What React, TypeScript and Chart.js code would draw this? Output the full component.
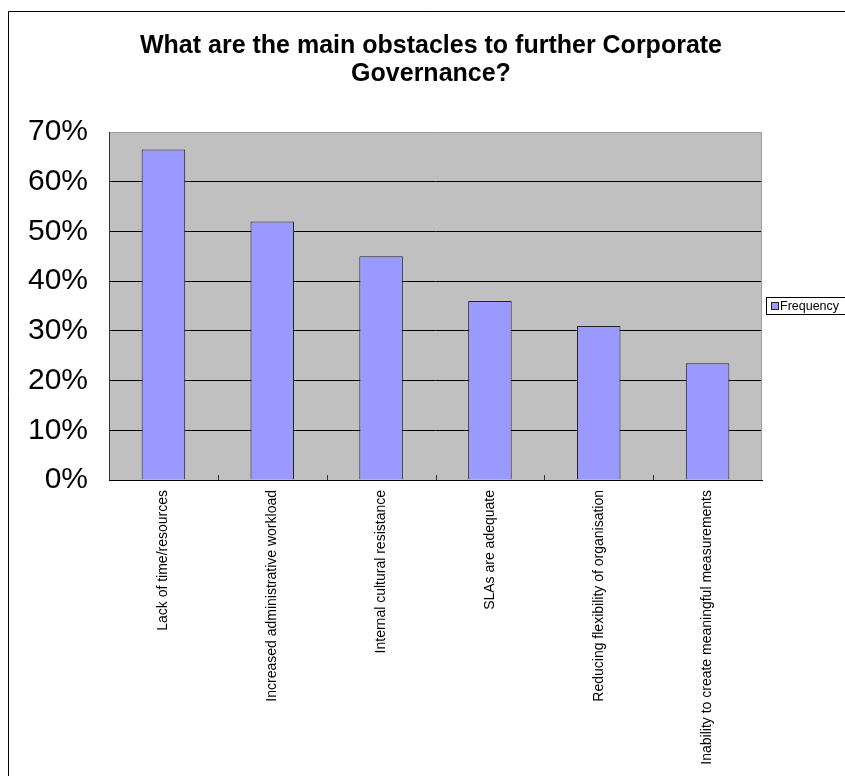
import React, { useEffect, useRef } from "react";
import { Chart, registerables } from "chart.js";

Chart.register(...registerables);

const TITLE_LINES = ["What are the main obstacles to further Corporate", "Governance?"];
const CATEGORIES = [
  "Lack of time/resources",
  "Increased administrative workload",
  "Internal cultural resistance",
  "SLAs are adequate",
  "Reducing flexibility of organisation",
  "Inability to create meaningful measurements",
];
const SERIES_LABEL = "Frequency";
const FREQUENCY = [66.5, 52, 45, 36, 31, 23.5];
const Y_MIN = 0;
const Y_MAX = 70;
const Y_STEP = 10;

const FONT = "'Liberation Sans', Arial, Helvetica, sans-serif";
const BAR_FILL = "#9999FF";
const BAR_BORDER = "#222222";
const PLOT_BG = "#C0C0C0";

const decorPlugin = {
  id: "decor",
  beforeDraw(chart: any) {
    const { ctx, chartArea: a } = chart;
    ctx.save();
    ctx.fillStyle = "#ffffff";
    ctx.fillRect(0, 0, chart.width, chart.height);
    ctx.fillStyle = PLOT_BG;
    ctx.fillRect(a.left, a.top, a.right - a.left, a.bottom - a.top);
    ctx.restore();
  },
  afterDraw(chart: any) {
    const { ctx, chartArea: a } = chart;
    ctx.save();
    // outer frame
    ctx.strokeStyle = "#000000";
    ctx.lineWidth = 1;
    ctx.beginPath();
    ctx.moveTo(8.5, chart.height);
    ctx.lineTo(8.5, 11.5);
    ctx.lineTo(chart.width, 11.5);
    ctx.stroke();

    // plot area border: top/right gray, left dark
    ctx.strokeStyle = "#A0A0A0";
    ctx.beginPath();
    ctx.moveTo(a.left, a.top + 0.5);
    ctx.lineTo(a.right - 0.5, a.top + 0.5);
    ctx.lineTo(a.right - 0.5, a.bottom);
    ctx.stroke();
    ctx.strokeStyle = "#333333";
    ctx.beginPath();
    ctx.moveTo(a.left + 0.5, a.top);
    ctx.lineTo(a.left + 0.5, a.bottom);
    ctx.stroke();

    // x-axis tick marks between categories (pointing into the plot)
    const xs = chart.scales.x;
    ctx.strokeStyle = "#333333";
    ctx.beginPath();
    for (let i = 0; i < CATEGORIES.length - 1; i++) {
      const px = Math.round((xs.getPixelForTick(i) + xs.getPixelForTick(i + 1)) / 2) + 0.5;
      ctx.moveTo(px, a.bottom);
      ctx.lineTo(px, a.bottom - 5);
    }
    ctx.stroke();

    // legend
    const lx = 766.5;
    const ly = 297.5;
    ctx.fillStyle = "#ffffff";
    ctx.fillRect(lx, ly, 100, 17);
    ctx.strokeStyle = "#000000";
    ctx.strokeRect(lx, ly, 100, 17);
    ctx.fillStyle = BAR_FILL;
    ctx.fillRect(771.5, 302.5, 7, 7);
    ctx.strokeStyle = BAR_BORDER;
    ctx.strokeRect(771.5, 302.5, 7, 7);
    ctx.fillStyle = "#000000";
    ctx.font = `12.5px ${FONT}`;
    ctx.textAlign = "left";
    ctx.textBaseline = "middle";
    ctx.fillText(chart.data.datasets[0].label, 780, 306.5);

    // title
    ctx.font = `bold 25px ${FONT}`;
    ctx.textAlign = "center";
    ctx.textBaseline = "middle";
    TITLE_LINES.forEach((line, i) => {
      ctx.fillText(line, 431, 46 + i * 28);
    });
    ctx.restore();
  },
};

export default function App() {
  const ref = useRef<HTMLCanvasElement | null>(null);

  useEffect(() => {
    document.body.style.margin = "0";
    const canvas = ref.current;
    if (!canvas) return;
    const chart = new Chart(canvas, {
      type: "bar",
      data: {
        labels: CATEGORIES,
        datasets: [
          {
            label: SERIES_LABEL,
            data: FREQUENCY,
            backgroundColor: BAR_FILL,
            borderColor: BAR_BORDER,
            borderWidth: 1,
            categoryPercentage: 1,
            barPercentage: 0.4,
          },
        ],
      },
      options: {
        animation: false,
        responsive: false,
        maintainAspectRatio: false,
        devicePixelRatio: 1,
        layout: { padding: { left: 8, right: 83, top: 132, bottom: 0 } },
        plugins: {
          legend: { display: false },
          title: { display: false },
          tooltip: { enabled: false },
        },
        scales: {
          x: {
            grid: { display: false },
            border: { display: true, color: "#000000", width: 1 },
            ticks: {
              color: "#000000",
              font: { family: FONT, size: 14 },
              minRotation: 90,
              maxRotation: 90,
              padding: 2,
              autoSkip: false,
            },
            afterFit(scale: any) {
              scale.height = 296;
            },
          },
          y: {
            min: Y_MIN,
            max: Y_MAX,
            grid: {
              drawTicks: false,
              color: (c: any) => (c.tick && c.tick.value === Y_MAX ? "rgba(0,0,0,0)" : "#000000"),
              lineWidth: 1,
            },
            border: { display: false },
            ticks: {
              stepSize: Y_STEP,
              color: "#000000",
              font: { family: FONT, size: 30 },
              padding: 21,
              callback: (v: any) => `${v}%`,
            },
            afterFit(scale: any) {
              scale.width = 101;
            },
          },
        },
      },
      plugins: [decorPlugin],
    });
    return () => chart.destroy();
  }, []);

  return <canvas ref={ref} width={845} height={776} style={{ display: "block" }} />;
}
